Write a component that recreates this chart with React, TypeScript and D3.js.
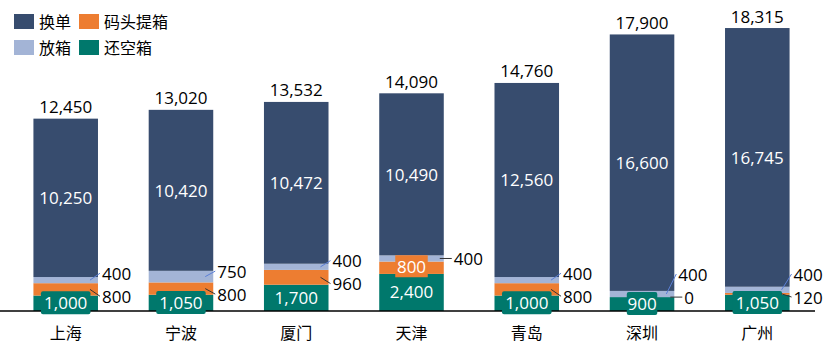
import React from 'react';
import * as d3 from 'd3';

// categories (ports) and the four stacked series, bottom to top
const categories = ['上海', '宁波', '厦门', '天津', '青岛', '深圳', '广州'];
const huanKong = [1000, 1050, 1700, 2400, 1000, 900, 1050]; // 还空箱
const maTou = [800, 800, 960, 800, 800, 0, 120]; // 码头提箱
const fangXiang = [400, 750, 400, 400, 400, 400, 400]; // 放箱
const huanDan = [10250, 10420, 10472, 10490, 12560, 16600, 16745]; // 换单

const seriesKeys = ['还空箱', '码头提箱', '放箱', '换单'];
const seriesColors = ['#00786C', '#ED7D31', '#A3B4D6', '#374C6E'];
const legendOrder = ['换单', '码头提箱', '放箱', '还空箱'];
// ports where the 码头提箱 value sits inside the bar
const maTouInside = ['天津'];

const width = 827;
const height = 353;
const baseY = 311;
const font = '"Open Sans", "Noto Sans CJK SC", sans-serif';
const fmt = d3.format(',');

const App = () => {
  const rows = categories.map((c, i) => ({
    cat: c,
    还空箱: huanKong[i],
    码头提箱: maTou[i],
    放箱: fangXiang[i],
    换单: huanDan[i],
  }));

  const x = d3.scaleBand().domain(categories).range([0, 823]).paddingInner(0.44).paddingOuter(0.29);
  const y = d3.scaleLinear().domain([0, 20000]).range([baseY, 2]);
  const color = d3.scaleOrdinal<string, string>().domain(seriesKeys).range(seriesColors);
  const stacked = d3.stack<any>().keys(seriesKeys)(rows);

  const bw = x.bandwidth();

  // outside labels for the thin 放箱 / 码头提箱 layers, pushed apart
  const outside = rows.map((r, i) => {
    const s2 = stacked[2][i]; // 放箱
    const s1 = stacked[1][i]; // 码头提箱
    const c2 = (y(s2[0]) + y(s2[1])) / 2;
    const c1 = (y(s1[0]) + y(s1[1])) / 2;
    const right = (x(r.cat) || 0) + bw;
    if (maTouInside.includes(r.cat)) {
      return { right, items: [{ key: '放箱', cy: c2, ly: c2, v: r['放箱'] }] };
    }
    const gap = 23;
    let ly2 = c2;
    let ly1 = c1;
    if (ly1 - ly2 < gap) {
      const mid = (ly1 + ly2) / 2;
      ly2 = mid - gap / 2;
      ly1 = mid + gap / 2;
    }
    if (ly1 > 297) {
      ly2 -= ly1 - 297;
      ly1 = 297;
    }
    return {
      right,
      items: [
        { key: '放箱', cy: c2, ly: ly2, v: r['放箱'] },
        { key: '码头提箱', cy: c1, ly: ly1, v: r['码头提箱'] },
      ],
    };
  });

  return (
    <svg width={width} height={height} style={{ position: 'absolute', left: 0, top: 0, fontFamily: font }}>
      <rect width={width} height={height} fill="#fff" />

      {/* bars */}
      {stacked.map((layer) => (
        <g key={layer.key} fill={color(layer.key)}>
          {layer.map((d, i) => (
            <rect
              key={i}
              x={x(categories[i])}
              y={y(d[1])}
              width={bw}
              height={Math.max(0, y(d[0]) - y(d[1]))}
            />
          ))}
        </g>
      ))}

      {/* axis line */}
      <line x1={0} x2={815} y1={baseY} y2={baseY} stroke="#000" strokeWidth={1.5} />

      {/* inside labels: 换单 */}
      {stacked[3].map((d, i) => (
        <text
          key={'hd' + i}
          x={(x(categories[i]) || 0) + bw / 2}
          y={(y(d[0]) + y(d[1])) / 2}
          textAnchor="middle"
          dominantBaseline="central"
          fill="#fff"
          fontSize={17}
        >
          {fmt(d[1] - d[0])}
        </text>
      ))}

      {/* 还空箱 labels with teal box */}
      {stacked[0].map((d, i) => {
        const cx = (x(categories[i]) || 0) + bw / 2;
        const cy = (y(d[0]) + y(d[1])) / 2 - 0.5;
        const label = fmt(d[1] - d[0]);
        const w = label.length * 9.5 + 2;
        return (
          <g key={'hk' + i}>
            <rect x={cx - w / 2} y={cy - 11.5} width={w} height={23} rx={2} fill={seriesColors[0]} />
            <text x={cx} y={cy} textAnchor="middle" dominantBaseline="central" fill="#fff" fontSize={17}>
              {label}
            </text>
          </g>
        );
      })}

      {/* 码头提箱 inside labels (with orange box) */}
      {stacked[1].map((d, i) => {
        if (!maTouInside.includes(categories[i])) return null;
        const cx = (x(categories[i]) || 0) + bw / 2;
        const cy = (y(d[0]) + y(d[1])) / 2 - 1.5;
        const label = fmt(d[1] - d[0]);
        const w = label.length * 9.5 + 4;
        return (
          <g key={'mt' + i}>
            <rect x={cx - w / 2} y={cy - 11} width={w} height={22} fill={seriesColors[1]} />
            <text x={cx} y={cy} textAnchor="middle" dominantBaseline="central" fill="#fff" fontSize={17}>
              {label}
            </text>
          </g>
        );
      })}

      {/* outside labels with leader lines */}
      {outside.map((o, i) => (
        <g key={'out' + i}>
          {o.items.map((it) => {
            const flat = Math.abs(it.ly - it.cy) < 3;
            return (
              <g key={it.key}>
                <line
                  x1={o.right - (flat ? 4 : 8)}
                  y1={it.cy}
                  x2={o.right + (flat ? 8 : 2)}
                  y2={flat ? it.cy : it.ly}
                  stroke={it.key === '放箱' && !flat ? '#5B7FD6' : '#333'}
                  strokeWidth={1}
                />
                <text
                  x={o.right + (flat ? 10 : 4)}
                  y={it.ly}
                  dominantBaseline="central"
                  fill="#000"
                  fontSize={17}
                >
                  {fmt(it.v)}
                </text>
              </g>
            );
          })}
        </g>
      ))}

      {/* totals */}
      {rows.map((r, i) => {
        const total = stacked[3][i][1];
        return (
          <text
            key={'t' + i}
            x={(x(r.cat) || 0) + bw / 2}
            y={y(total) - 12}
            textAnchor="middle"
            dominantBaseline="central"
            fill="#000"
            fontSize={17}
          >
            {fmt(total)}
          </text>
        );
      })}

      {/* category labels */}
      {categories.map((c) => (
        <text
          key={c}
          x={(x(c) || 0) + bw / 2}
          y={333}
          textAnchor="middle"
          dominantBaseline="central"
          fill="#000"
          fontSize={16}
        >
          {c}
        </text>
      ))}

      {/* legend */}
      {legendOrder.map((k, i) => {
        const col = i % 2;
        const row = Math.floor(i / 2);
        const lx = 14 + col * 65;
        const ly = 14 + row * 26;
        return (
          <g key={k} transform={`translate(${lx},${ly})`}>
            <rect width={20} height={15} fill={color(k)} />
            <text x={25} y={7.5} dominantBaseline="central" fontSize={16} fill="#000">
              {k}
            </text>
          </g>
        );
      })}
    </svg>
  );
};

export default App;
